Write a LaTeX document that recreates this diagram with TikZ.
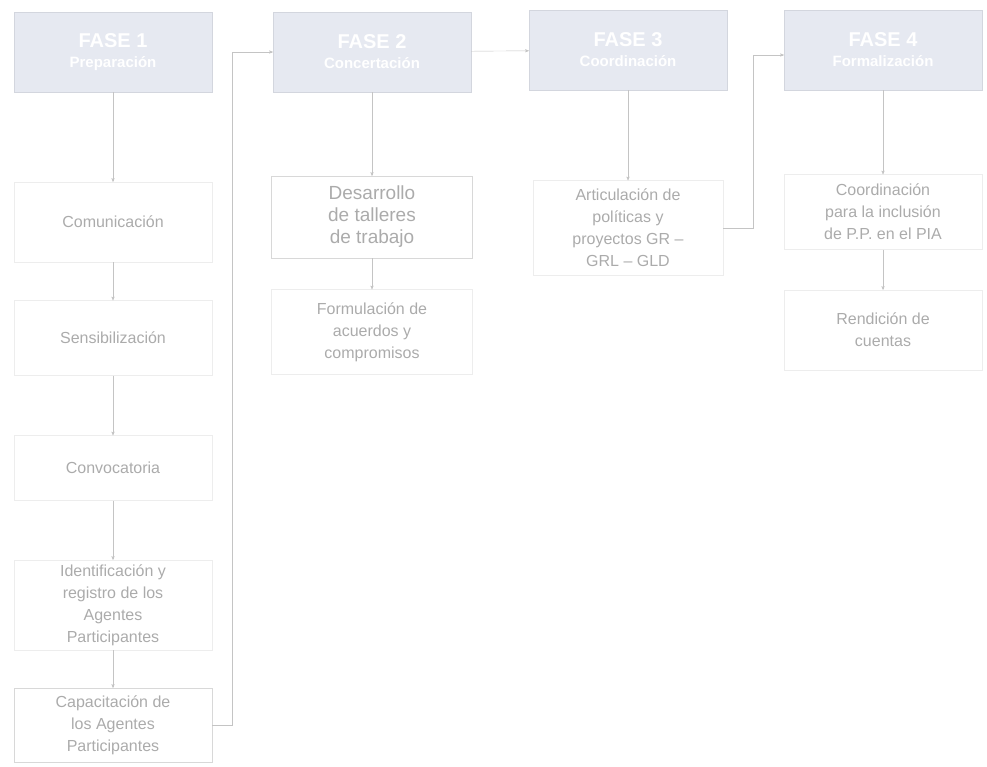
\documentclass[tikz,border=0pt]{standalone}
\usepackage{fontspec}
\setmainfont{Liberation Sans}
\usepackage{tikz}
\usetikzlibrary{arrows}
\usetikzlibrary{positioning}

\definecolor{phasefill}{HTML}{E6E9F1}
\definecolor{phaseline}{HTML}{D3D6DE}
\definecolor{stepline}{HTML}{EDEDED}
\definecolor{boxline}{HTML}{D8D8D8}
\definecolor{steptext}{HTML}{ABABAB}
\definecolor{flowline}{HTML}{C4C4C4}

\begin{document}
\begin{tikzpicture}[x=1pt,y=-1pt,->,>=stealth',shorten >=0pt,draw=flowline,thin,
    phase node/.style={rectangle,draw=phaseline,fill=phasefill,text=white,
      minimum width=198pt,minimum height=80pt,align=center,
      font=\bfseries\fontsize{15}{20}\selectfont},
    step node/.style={rectangle,draw=stepline,text=steptext,
      minimum width=198pt,align=center,
      font=\fontsize{16}{22}\selectfont}]

  \useasboundingbox (0,0) rectangle (987,767);

  % fases
  \node[phase node] (F1) at (113,52) {{\fontsize{20}{22}\selectfont FASE 1}\\ Preparación};
  \node[phase node] (F2) at (372,52) {{\fontsize{20}{22}\selectfont FASE 2}\\ Concertación};
  \node[phase node] (F3) at (628,50) {{\fontsize{20}{22}\selectfont FASE 3}\\ Coordinación};
  \node[phase node] (F4) at (883,50) {{\fontsize{20}{22}\selectfont FASE 4}\\ Formalización};

  % fase 1
  \node[step node,minimum height=80pt] (com) at (113,222) {Comunicación};
  \node[step node,minimum height=75pt] (sen) at (113,338) {Sensibilización};
  \node[step node,minimum height=65pt] (conv) at (113,468) {Convocatoria};
  \node[step node,minimum height=90pt] (iden) at (113,605) {Identificación y\\ registro de los\\ Agentes\\ Participantes};
  \node[step node,minimum height=74pt,draw=boxline] (cap) at (113,725) {Capacitación de\\ los Agentes\\ Participantes};

  % fase 2
  \node[step node,minimum height=82pt,minimum width=201pt,draw=boxline,
        font=\fontsize{19}{22}\selectfont] (des) at (372,217) {Desarrollo\\ de talleres\\ de trabajo};
  \node[step node,minimum height=85pt,minimum width=201pt] (form) at (372,332) {Formulación de\\ acuerdos y\\ compromisos};

  % fase 3
  \node[step node,minimum height=95pt,minimum width=190pt] (art) at (628,228) {Articulación de\\ políticas y\\ proyectos GR --\\ GRL -- GLD};

  % fase 4
  \node[step node,minimum height=75pt] (coord) at (883,212) {Coordinación\\ para la inclusión\\ de P.P. en el PIA};
  \node[step node,minimum height=80pt] (rend) at (883,330) {Rendición de\\ cuentas};

  \path
    (F1) edge (com)
    (com) edge (sen)
    (sen) edge (conv)
    (conv) edge (iden)
    (iden) edge (cap)
    (F2) edge (des)
    (des) edge (form)
    (F3) edge (art)
    (F4) edge (coord)
    (coord) edge (rend)
    (F2) edge (F3);

  \draw (cap.east) -- ++(20,0) |- (F2.west);
  \draw (art.east) -- ++(30,0) |- ([yshift=-5pt]F4.west);
\end{tikzpicture}
\end{document}
